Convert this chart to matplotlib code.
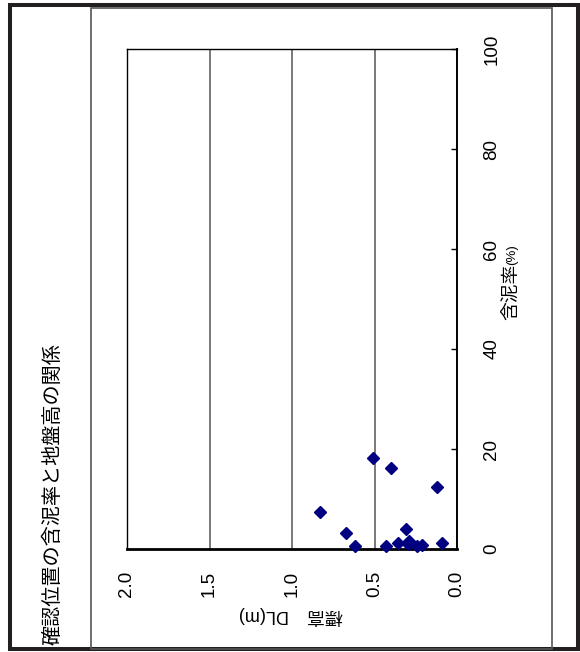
import matplotlib
matplotlib.use("Agg")
import matplotlib.pyplot as plt
from matplotlib.patches import Rectangle

# --- データ (標高 DL(m) と 含泥率(%)) ---
elevation = [0.51, 0.40, 0.12, 0.83, 0.67, 0.62, 0.31, 0.43, 0.36, 0.29, 0.30, 0.24, 0.21, 0.09]
mud_ratio = [18.2, 16.3, 12.5, 7.4, 3.3, 0.7, 4.0, 0.6, 1.3, 1.7, 1.0, 0.6, 0.9, 1.2]

elev_ticks = [2.0, 1.5, 1.0, 0.5, 0.0]
mud_ticks = [0, 20, 40, 60, 80, 100]

title = "確認位置の含泥率と地盤高の関係"
elev_label = "標高　DL(m)"
mud_label = "含泥率"
mud_unit = "(%)"

W, H = 580, 652
fig = plt.figure(figsize=(W / 100, H / 100), dpi=100)
fonts = ["Liberation Sans", "Noto Sans CJK JP", "DejaVu Sans"]


def fx(px):
    return px / W


def fy(py):
    return 1 - py / H


# 外枠
fig.add_artist(Rectangle((fx(9.5), fy(648.5)), fx(577.5) - fx(9.5), fy(4.5) - fy(648.5),
                         transform=fig.transFigure, fill=False, ec="#231f20", lw=2.9))
fig.add_artist(Rectangle((fx(90.5), fy(649)), fx(552) - fx(90.5), fy(7.5) - fy(649),
                         transform=fig.transFigure, fill=False, ec="#555555", lw=1.2))

# プロットエリア (90度回転したExcelグラフ)
ax = fig.add_axes([fx(127), fy(549), fx(457) - fx(127), fy(49) - fy(549)])
ax.set_xlim(2.0, 0.0)
ax.set_ylim(0, 100)

ax.plot(elevation, mud_ratio, linestyle="none", marker="D", markersize=5.8,
        color="#000080", clip_on=False, zorder=3)

for v in elev_ticks[1:-1]:
    ax.axvline(v, color="#555555", lw=1.1, zorder=1)

ax.set_xticks(elev_ticks)
ax.set_xticklabels([f"{v:.1f}" for v in elev_ticks], rotation=90, fontsize=13.5, family=fonts)
ax.tick_params(axis="x", length=0, pad=16)

ax.yaxis.tick_right()
ax.set_yticks(mud_ticks)
ax.set_yticklabels([str(v) for v in mud_ticks], rotation=90, fontsize=13.5, family=fonts,
                   va="center", ha="left")
ax.tick_params(axis="y", direction="in", length=4, pad=19, width=1)

for side in ["left", "top"]:
    ax.spines[side].set_linewidth(1.0)
ax.spines["right"].set_linewidth(1.4)
ax.spines["bottom"].set_linewidth(2.0)
for s in ax.spines.values():
    s.set_color("black")

# テキスト
fig.text(fx(53), fy(494), title, rotation=90, fontsize=14.5, ha="center", va="center",
         family=["Noto Sans CJK JP"])
fig.text(fx(291), fy(616), elev_label, rotation=180, fontsize=13, ha="center", va="center",
         family=fonts)
fig.text(fx(512), fy(292), mud_label, rotation=90, fontsize=13.5, ha="center", va="center",
         family=["Noto Sans CJK JP"])
fig.text(fx(512), fy(255), mud_unit, rotation=90, fontsize=9.5, ha="center", va="center",
         family=fonts)

fig.savefig("out.png", dpi=100)
